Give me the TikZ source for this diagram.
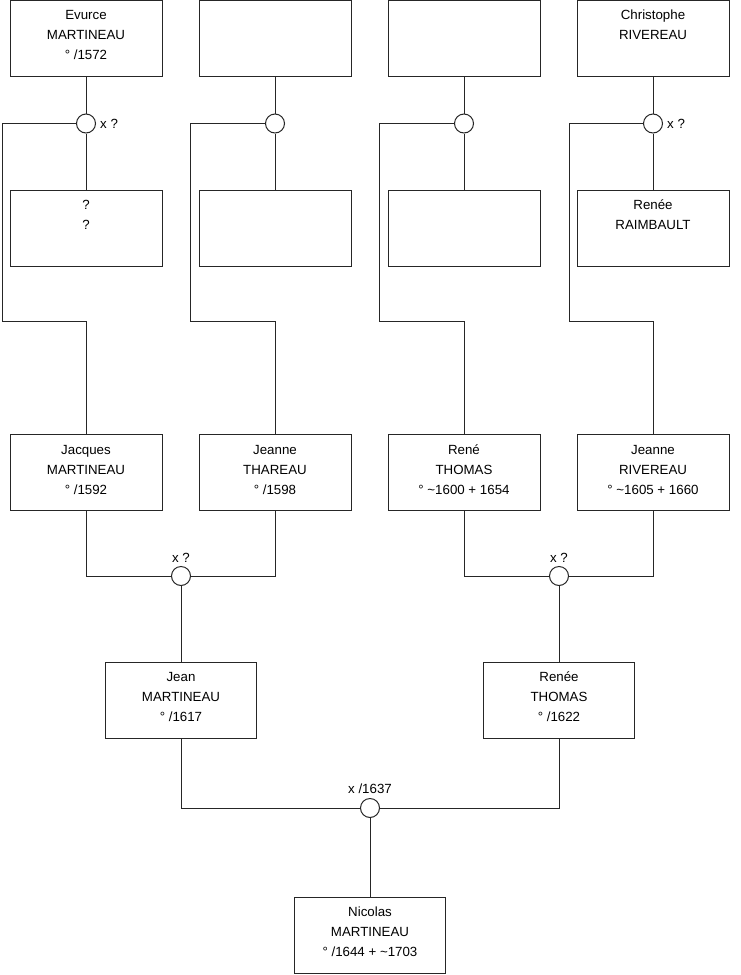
\documentclass[tikz,border=0pt]{standalone}
\usepackage{fontspec}
\setmainfont{Liberation Sans}
\newcommand{\pers}[3]{\parbox[c][76pt][t]{150pt}{\centering\fontsize{13.3}{20}\selectfont\rule{0pt}{19.5pt}#1\\\mbox{}#2\\\mbox{}#3}}
\tikzset{
  person/.style={draw=black!85, rectangle, inner sep=0pt, minimum width=152pt, minimum height=76pt, line width=1pt},
  union/.style={draw=black!85, circle, minimum size=19pt, inner sep=0pt, fill=white, line width=1pt},
  link/.style={draw=black!85, line width=1pt},
  ulabel/.style={inner sep=0pt, font=\fontsize{13.3}{16}\selectfont}
}
\begin{document}
\begin{tikzpicture}[x=1pt,y=-1pt]
\useasboundingbox[fill=white] (0,0) rectangle (740,975);
% generation 1
\node[person] (p1) at (86,38) {\pers{Evurce}{MARTINEAU}{° /1572}};
\node[person] (p2) at (275,38) {\pers{}{}{}};
\node[person] (p3) at (464,38) {\pers{}{}{}};
\node[person] (p4) at (653,38) {\pers{Christophe}{RIVEREAU}{}};
% unions gen 1
\node[union] (u1) at (86,123.5) {};
\node[union] (u2) at (275,123.5) {};
\node[union] (u3) at (464,123.5) {};
\node[union] (u4) at (653,123.5) {};
\node[ulabel, anchor=west, xshift=4pt] (lu1) at (u1.east) {x ?};
\node[ulabel, anchor=west, xshift=4pt] (lu4) at (u4.east) {x ?};
% spouses
\node[person] (q1) at (86,228) {\pers{?}{?}{}};
\node[person] (q2) at (275,228) {\pers{}{}{}};
\node[person] (q3) at (464,228) {\pers{}{}{}};
\node[person] (q4) at (653,228) {\pers{Renée}{RAIMBAULT}{}};
% generation 3
\node[person] (g1) at (86,472.5) {\pers{Jacques}{MARTINEAU}{° /1592}};
\node[person] (g2) at (275,472.5) {\pers{Jeanne}{THAREAU}{° /1598}};
\node[person] (g3) at (464,472.5) {\pers{René}{THOMAS}{° \textasciitilde1600 + 1654}};
\node[person] (g4) at (653,472.5) {\pers{Jeanne}{RIVEREAU}{° \textasciitilde1605 + 1660}};
% corner coordinates
\coordinate (k1) at (2,321);
\coordinate (k2) at (190.5,321);
\coordinate (k3) at (379,321);
\coordinate (k4) at (569,321);
% unions gen 3
\node[union] (v1) at (181,576) {};
\node[union] (v2) at (559,576) {};
\node[ulabel, anchor=base, yshift=4pt] (lv1) at (v1.north) {x ?};
\node[ulabel, anchor=base, yshift=4pt] (lv2) at (v2.north) {x ?};
% generation 4
\node[person, minimum width=151pt] (h1) at (181,700) {\pers{Jean}{MARTINEAU}{° /1617}};
\node[person, minimum width=151pt] (h2) at (559,700) {\pers{Renée}{THOMAS}{° /1622}};
\node[union] (w) at (370,808) {};
\node[ulabel, anchor=base, yshift=4.5pt] (lw) at (w.north) {x /1637};
% generation 5
\node[person, minimum width=151pt] (n) at (370,935) {\pers{Nicolas}{MARTINEAU}{° /1644 + \textasciitilde1703}};
% connectors gen 1
\draw[link] (p1.south) -- (u1.north);
\draw[link] (p2.south) -- (u2.north);
\draw[link] (p3.south) -- (u3.north);
\draw[link] (p4.south) -- (u4.north);
\draw[link] (u1.south) -- (q1.north);
\draw[link] (u2.south) -- (q2.north);
\draw[link] (u3.south) -- (q3.north);
\draw[link] (u4.south) -- (q4.north);
\draw[link] (u1.west) -| (k1) -| (g1.north);
\draw[link] (u2.west) -| (k2) -| (g2.north);
\draw[link] (u3.west) -| (k3) -| (g3.north);
\draw[link] (u4.west) -| (k4) -| (g4.north);
% connectors gen 3
\draw[link] (g1.south) |- (v1.west);
\draw[link] (g2.south) |- (v1.east);
\draw[link] (g3.south) |- (v2.west);
\draw[link] (g4.south) |- (v2.east);
\draw[link] (v1.south) -- (h1.north);
\draw[link] (v2.south) -- (h2.north);
% connectors gen 4
\draw[link] (h1.south) |- (w.west);
\draw[link] (h2.south) |- (w.east);
\draw[link] (w.south) -- (n.north);
\end{tikzpicture}
\end{document}
